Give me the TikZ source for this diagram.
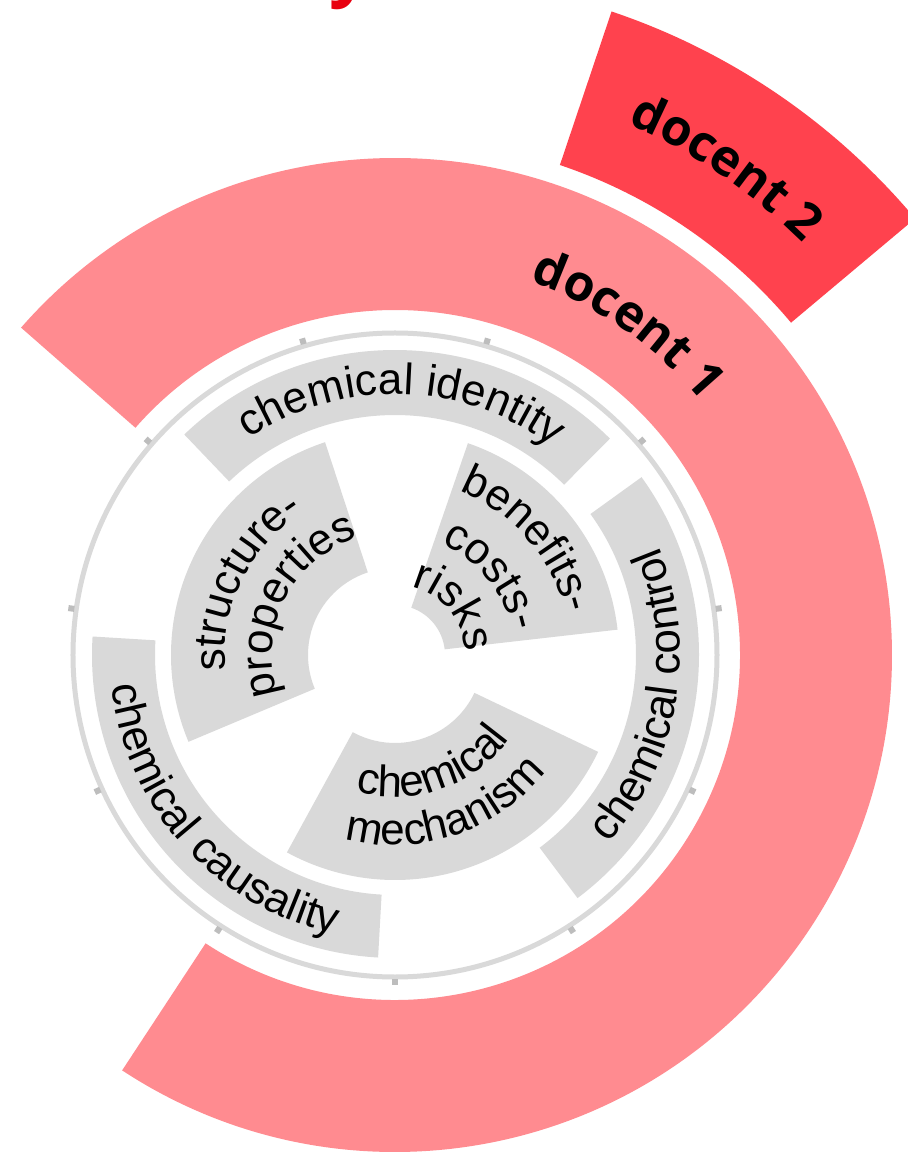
\documentclass[tikz,border=0pt]{standalone}
\usepackage{fontspec}
\setmainfont{Liberation Sans}
\newfontfamily\docfont{Open Sans}
\usetikzlibrary{decorations.text}
\definecolor{pinkc}{HTML}{FF8B90}
\definecolor{redc}{HTML}{FF424E}
\definecolor{titlec}{HTML}{E8000F}
\definecolor{segc}{HTML}{D9D9D9}
\definecolor{tickc}{HTML}{BDBDBD}
\newcommand{\annsec}[5]{\fill[#1] (#2:#4pt) arc[start angle=#2, end angle=#3, radius=#4pt] -- (#3:#5pt) arc[start angle=#3, end angle=#2, radius=#5pt] -- cycle;}
\newcommand{\arctext}[5]{\path[decorate, decoration={text along path, text align=center, text={|#1|#2}}] (#3:#5pt) arc[start angle=#3, end angle=#4, radius=#5pt];}
\newcommand{\gf}{\fontsize{44}{44}\selectfont}
\newcommand{\dfont}{\docfont\bfseries\fontsize{50}{50}\selectfont}
\begin{document}
\begin{tikzpicture}[x=1pt,y=1pt]
\useasboundingbox (-395,-498) rectangle (512,655);
\fill[white] (-395,-498) rectangle (512,655);
% title fragment
\node[anchor=base west, inner sep=0pt, text=titlec, font=\docfont\bfseries\fontsize{72}{72}\selectfont] (title) at (-66,662) {y};
% docent rings
\annsec{pinkc}{-123.3}{138.8}{345}{497}
\annsec{redc}{40}{71.4}{517}{679}
% grey circle and ticks
\draw[segc, line width=5pt] (0,0) circle[radius=322pt];
\foreach \a in {270,237.27,204.55,171.82,139.09,106.36,73.64,40.91,8.18,-24.55,-57.27}
  \fill[tickc, rotate=\a] (324,-3) rectangle (330,3);
% outer segments
\annsec{segc}{45.2}{133.7}{240}{305}
\annsec{segc}{-53.1}{35.8}{241}{304}
\annsec{segc}{176.5}{266.8}{240}{303}
% inner segments
\annsec{segc}{108.2}{202.8}{87}{224}
\annsec{segc}{241.3}{334.5}{88}{225}
\annsec{segc}{6.5}{71}{50}{224}
% texts
\arctext{\gf}{chemical identity}{168.5}{8.5}{261}
\arctext{\gf}{chemical control}{-89.5}{70.5}{285}
\arctext{\gf}{chemical causality}{142}{302}{285}
\arctext{\gf}{structure-}{234}{74}{170}
\arctext{\gf}{properties}{233}{73}{123}
\arctext{\gf}{benefits-}{121}{-39}{176}
\arctext{\gf}{costs-}{119.4}{-40.6}{120}
\arctext{\gf}{risks}{119.5}{-40.5}{70}
\arctext{\gf}{chemical}{209}{369}{142}
\arctext{\gf}{mechanism}{208.5}{368.5}{190}
\arctext{\dfont}{docent 1}{99.8}{9.8}{398}
\arctext{\dfont}{docent 2}{90.8}{20.8}{580}
\end{tikzpicture}
\end{document}
